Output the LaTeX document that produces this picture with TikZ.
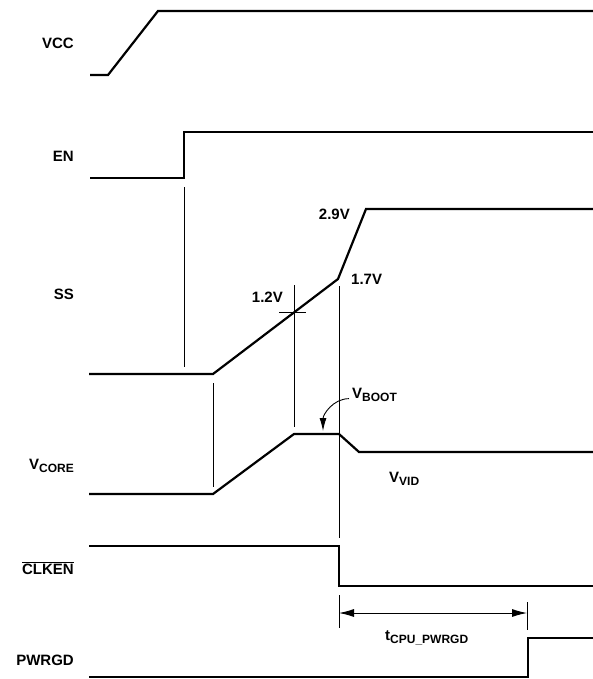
\documentclass[tikz,border=0pt]{standalone}
\usepackage{fontspec}
\setmainfont{Liberation Sans}
\usetikzlibrary{arrows.meta}
\newcommand{\lowtx}[1]{\raisebox{-3.5pt}{\fontsize{12}{12}\selectfont #1}}
\begin{document}
\begin{tikzpicture}[x=1pt,y=-1pt,font=\fontsize{15}{17}\selectfont\bfseries,
     sig/.style={line width=2.2pt,line join=miter},
     guide/.style={line width=0.9pt},
     lbl/.style={anchor=base east,inner sep=0pt},
     val/.style={inner sep=0pt}]
    \useasboundingbox (0,0) rectangle (593,679);
    % signal names
    \node[lbl](lvcc) at (74,49){VCC};       \node[lbl](len) at (74,161){EN};
    \node[lbl](lss) at (74,299){SS};        \node[lbl](lvcore) at (74,469){V\lowtx{CORE}};
    \node[lbl](lclken) at (74,574){$\overline{\mbox{CLKEN}}$};
    \node[lbl](lpwrgd) at (74,665){PWRGD};
    % waveforms
    \draw[sig] (90,75)--(108,75)--(158,11)--(593,11);
    \draw[sig] (90,178)--(184,178)--(184,132)--(593,132);
    \draw[sig] (89,374)--(213,374)--(338,279)--(366,209)--(593,209);
    \draw[sig] (89,494)--(213,494)--(294,434)--(339,434)--(359,452)--(593,452);
    \draw[sig] (89,546)--(339,546)--(339,586)--(593,586);
    \draw[sig] (89,677)--(528,677)--(528,638)--(593,638);
    % timing guides
    \draw[guide] (184,187)--(184,367);
    \draw[guide] (213,383)--(213,487);
    \draw[guide] (294,285)--(294,427);
    \draw[guide] (279,312)--(306,312);
    \draw[guide] (339,286)--(339,538);
    \draw[guide] (339,595)--(339,628);
    \draw[guide] (527,602)--(527,630);
    % levels
    \node[val,anchor=base east](v29) at (350,219){2.9V};
    \node[val,anchor=base west](v17) at (351,284){1.7V};
    \node[val,anchor=base east](v12) at (283,302){1.2V};
    \node[val,anchor=base west](vboot) at (352,398){V\lowtx{BOOT}};
    \node[val,anchor=base west](vvid) at (389,482){V\lowtx{VID}};
    \node[val,anchor=base west](tcpu) at (385,640){t\lowtx{CPU\_PWRGD}};
    \coordinate (bootpt) at (323,431);
    \coordinate (tstart) at (339,613); \coordinate (tend) at (527,613);
    \draw[guide,-{Latex[length=13pt,width=7pt]}] ([xshift=-3pt,yshift=-4pt]vboot.west) to[out=180,in=90] (bootpt);
    \draw[guide,{Latex[length=15pt,width=8pt]}-{Latex[length=15pt,width=8pt]}] (tstart)--(tend);
  \end{tikzpicture}
\end{document}
